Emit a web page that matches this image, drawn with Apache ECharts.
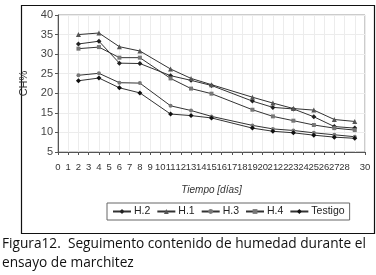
<!DOCTYPE html>
<html>
<head>
<meta charset="utf-8">
<script src="https://cdn.jsdelivr.net/npm/echarts@6/dist/echarts.min.js"></script>
<style>
    html, body { margin: 0; padding: 0; background: #fff; }
    #main { width: 376px; height: 275px; }
</style>
</head>
<body>
<div id="main"></div>
<script>
// days of measurement
var days = [2, 4, 6, 8, 11, 13, 15, 19, 21, 23, 25, 27, 29];

// CH% per treatment
var h2 = [32.6, 33.3, 27.7, 27.6, 24.5, 23.3, 22.0, 18.0, 16.4, 16.0, 14.0, 11.5, 11.1];
var h1 = [35.0, 35.4, 31.9, 30.8, 26.2, 23.8, 22.2, 19.0, 17.5, 16.1, 15.7, 13.3, 12.8];
var h3 = [24.6, 25.1, 22.7, 22.6, 16.8, 15.6, 14.1, 11.8, 10.9, 10.5, 9.9, 9.4, 8.9];
var h4 = [31.4, 31.8, 29.1, 29.1, 23.8, 21.2, 19.9, 15.8, 14.1, 13.0, 11.9, 11.1, 10.6];
var testigo = [23.2, 23.9, 21.4, 20.1, 14.7, 14.3, 13.7, 11.1, 10.3, 9.9, 9.3, 8.8, 8.5];

var names = ['H.2', 'H.1', 'H.3', 'H.4', 'Testigo'];

function pairs(vals) {
    var out = [];
    for (var i = 0; i < days.length; i++) {
        out.push([days[i], vals[i]]);
    }
    return out;
}

function makeSeries(name, vals, symbol, color, size) {
    return {
        name: name,
        type: 'line',
        data: pairs(vals),
        symbol: symbol,
        symbolSize: size,
        showSymbol: true,
        lineStyle: { color: '#333', width: 1 },
        itemStyle: { color: color, borderWidth: 0 },
        emphasis: { disabled: true },
        z: 3
    };
}

var font = 'Liberation Sans';

var chart = echarts.init(document.getElementById('main'), null, { renderer: 'canvas' });

chart.setOption({
    animation: false,
    backgroundColor: '#fff',
    grid: {
        left: 58, right: 11, top: 15, bottom: 123,
        show: true, borderColor: '#999', borderWidth: 1
    },
    xAxis: {
        type: 'value', min: 0, max: 30, interval: 1,
        name: 'Tiempo [días]',
        nameLocation: 'middle', nameGap: 33,
        nameTextStyle: { fontFamily: font, fontStyle: 'italic', fontSize: 10, color: '#333' },
        axisLine: { lineStyle: { color: '#555' } },
        axisTick: { show: true, length: 3, lineStyle: { color: '#555' } },
        axisLabel: {
            fontFamily: font, fontSize: 9.5, color: '#333', margin: 10,
            showMaxLabel: true, showMinLabel: true, hideOverlap: false, interval: 0
        },
        splitLine: { show: true, lineStyle: { color: '#ececec', width: 1 } }
    },
    yAxis: {
        type: 'value', min: 5, max: 40, interval: 5,
        name: 'CH%',
        nameLocation: 'middle', nameGap: 24, nameRotate: 90,
        nameTextStyle: { fontFamily: font, fontSize: 11, color: '#333' },
        axisLine: { show: true, lineStyle: { color: '#555' } },
        axisTick: { show: true, length: 3, lineStyle: { color: '#555' } },
        axisLabel: { fontFamily: font, fontSize: 11, color: '#444', margin: 5 },
        splitLine: { show: true, lineStyle: { color: '#ececec', width: 1 } }
    },
    legend: {
        data: names,
        left: 107, top: 203, width: 260,
        orient: 'horizontal',
        itemWidth: 18, itemHeight: 6, itemGap: 6,
        padding: [3, 5, 3, 5],
        borderColor: '#666', borderWidth: 1,
        textStyle: { fontFamily: font, fontSize: 10.5, color: '#222', padding: [0, 0, 0, -2] }
    },
    series: [
        makeSeries('H.2', h2, 'diamond', '#222', 5),
        makeSeries('H.1', h1, 'triangle', '#555', 5),
        makeSeries('H.3', h3, 'circle', '#777', 4),
        makeSeries('H.4', h4, 'rect', '#777', 4),
        makeSeries('Testigo', testigo, 'diamond', '#111', 5)
    ],
    graphic: [
        {
            type: 'rect', left: 19, top: 3, z: -1,
            shape: { width: 353, height: 228 },
            style: { fill: 'none', stroke: '#111', lineWidth: 1.2 }
        },
        {
            type: 'text', left: 2, top: 235,
            style: {
                text: 'Figura12.  Seguimento contenido de humedad durante el\nensayo de marchitez',
                font: '13.7px "Open Sans"', fill: '#111', lineHeight: 19
            }
        }
    ]
});
</script>
</body>
</html>
